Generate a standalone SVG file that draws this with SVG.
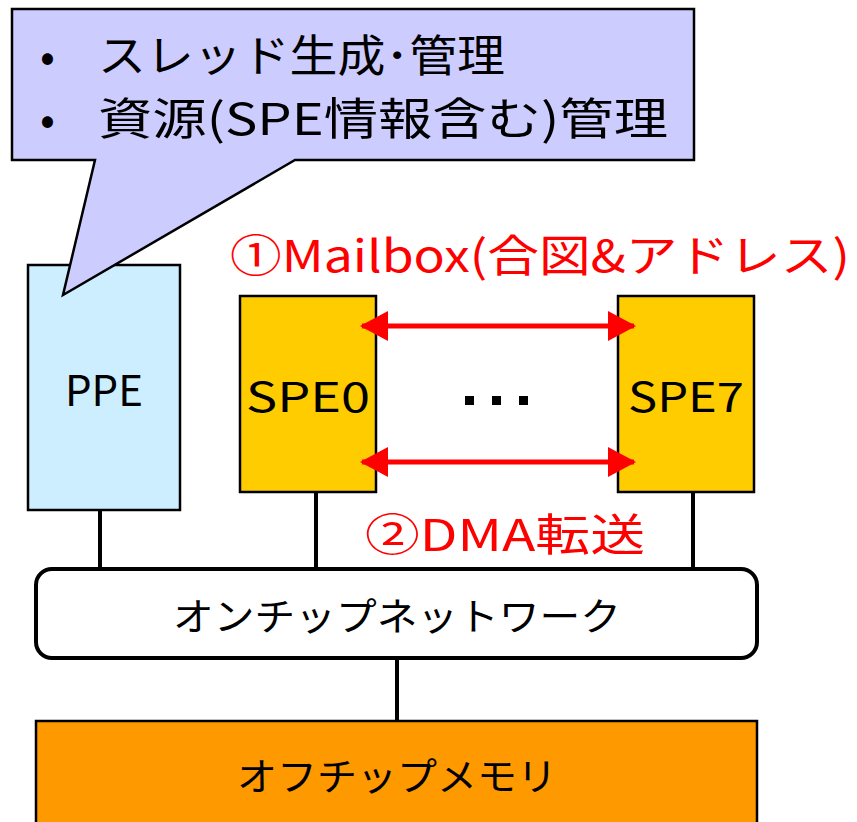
<svg xmlns="http://www.w3.org/2000/svg" width="857" height="822" viewBox="0 0 857 822">
<style>
text{font-family:"Noto Sans CJK JP","Noto Sans",sans-serif;}
.blk{fill:#000;}
.red{fill:#ff0000;}
.ln{stroke:#000;stroke-width:4;fill:none;}
.box{stroke:#000;stroke-width:2.5;}
.arr{stroke:#ff0000;stroke-width:5;fill:none;}
</style>
<defs>
<marker id="ah" viewBox="0 0 28 30" refX="26" refY="15" markerWidth="28" markerHeight="30" orient="auto-start-reverse" markerUnits="userSpaceOnUse">
<path d="M0,0 L28,15 L0,30 z" fill="#ff0000"/>
</marker>
</defs>
<rect width="857" height="822" fill="#fff"/>
<g id="connectors">
<line class="ln" x1="100" y1="510" x2="100" y2="569"/>
<line class="ln" x1="316" y1="492" x2="316" y2="569"/>
<line class="ln" x1="693" y1="492" x2="693" y2="569"/>
<line class="ln" x1="397" y1="658" x2="397" y2="721"/>
</g>
<g id="ppe">
<rect class="box" x="28" y="265" width="152" height="245" fill="#cceeff"/>
<text x="104" y="406" font-size="42" text-anchor="middle" class="blk">PPE</text>
</g>
<g id="callout">
<path d="M12,9 H694 V160 H295 L63,295 L95,160 H12 Z" fill="#ccccff" stroke="#000" stroke-width="2.5"/>
<text x="40" y="72" font-size="44" class="blk">•</text>
<text x="40" y="135" font-size="44" class="blk">•</text>
<text x="98" y="72" font-size="44" class="blk" textLength="407" lengthAdjust="spacingAndGlyphs">スレッド生成･管理</text>
<text x="98" y="135" font-size="44" class="blk" textLength="570" lengthAdjust="spacingAndGlyphs">資源(SPE情報含む)管理</text>
</g>
<g id="spe0">
<rect class="box" x="240" y="296" width="136" height="196" fill="#ffcc00"/>
<text x="308" y="412" font-size="41" text-anchor="middle" class="blk" textLength="124" lengthAdjust="spacingAndGlyphs">SPE0</text>
</g>
<g id="spe7">
<rect class="box" x="618" y="296" width="136" height="196" fill="#ffcc00"/>
<text x="686" y="412" font-size="41" text-anchor="middle" class="blk" textLength="116" lengthAdjust="spacingAndGlyphs">SPE7</text>
</g>
<g id="dots" class="blk">
<rect x="465" y="396" width="9" height="9"/>
<rect x="492" y="396" width="9" height="9"/>
<rect x="519" y="396" width="9" height="9"/>
</g>
<g id="arrows">
<line class="arr" x1="362" y1="326" x2="634" y2="326" marker-start="url(#ah)" marker-end="url(#ah)"/>
<line class="arr" x1="362" y1="462" x2="634" y2="462" marker-start="url(#ah)" marker-end="url(#ah)"/>
<text x="230" y="272" font-size="44" class="red" textLength="620" lengthAdjust="spacingAndGlyphs">①Mailbox(合図&amp;アドレス)</text>
<text x="365" y="551" font-size="44" class="red" textLength="280" lengthAdjust="spacingAndGlyphs">②DMA転送</text>
</g>
<g id="onchip">
<rect x="36" y="569" width="721" height="89" rx="16" fill="#fff" stroke="#000" stroke-width="4"/>
<text x="397" y="630" font-size="38" text-anchor="middle" class="blk" textLength="448" lengthAdjust="spacingAndGlyphs">オンチップネットワーク</text>
</g>
<g id="offchip">
<rect class="box" x="36" y="721" width="721" height="110" fill="#ff9900"/>
<text x="397" y="790" font-size="38" text-anchor="middle" class="blk" textLength="320" lengthAdjust="spacingAndGlyphs">オフチップメモリ</text>
</g>
</svg>
